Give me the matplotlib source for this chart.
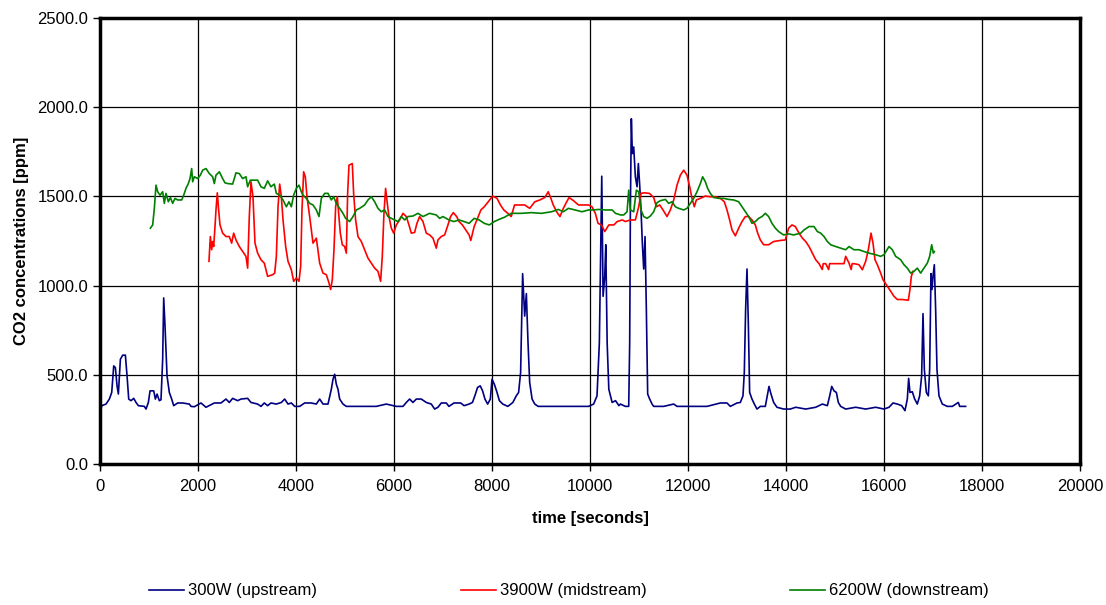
import numpy as np
import matplotlib
matplotlib.use("Agg")
import matplotlib.pyplot as plt
from matplotlib.ticker import FormatStrFormatter

plt.rcParams['font.family'] = ['Liberation Sans', 'DejaVu Sans']

# (time [s], CO2 [ppm])
upstream = [
    (8, 290), (35, 327), (123, 336), (191, 364), (239, 401), (280, 550), (314, 540), (348, 438),
    (375, 392), (416, 587), (463, 610), (518, 610), (552, 494), (586, 364), (633, 355), (688, 368),
    (735, 345), (783, 327), (905, 323), (939, 308), (987, 345), (1021, 410), (1096, 410), (1130, 364),
    (1164, 392), (1211, 355), (1245, 360), (1279, 587), (1300, 931), (1327, 773), (1368, 494),
    (1415, 401), (1463, 364), (1504, 327), (1585, 342), (1687, 342), (1823, 336), (1857, 323),
    (1925, 321), (2061, 342), (2163, 318), (2333, 342), (2469, 342), (2571, 364), (2639, 345),
    (2707, 368), (2809, 355), (2877, 364), (3013, 368), (3081, 345), (3217, 336), (3285, 323),
    (3353, 342), (3421, 327), (3489, 342), (3599, 336), (3701, 345), (3769, 364), (3837, 336),
    (3905, 342), (3973, 323), (4075, 323), (4177, 342), (4313, 342), (4415, 336), (4483, 364),
    (4551, 336), (4653, 336), (4721, 419), (4755, 475), (4789, 503), (4823, 447), (4857, 419),
    (4891, 364), (4959, 336), (5027, 323), (5231, 323), (5435, 323), (5639, 323), (5843, 336),
    (6047, 323), (6183, 323), (6251, 345), (6319, 364), (6387, 345), (6455, 364), (6557, 364),
    (6659, 345), (6761, 336), (6829, 308), (6897, 318), (6965, 342), (7067, 342), (7121, 323),
    (7224, 342), (7361, 342), (7430, 327), (7533, 336), (7601, 345), (7650, 382), (7705, 429),
    (7760, 438), (7808, 410), (7856, 364), (7911, 336), (7966, 364), (8000, 475), (8048, 447),
    (8103, 401), (8151, 355), (8220, 336), (8323, 323), (8426, 345), (8495, 382), (8543, 401),
    (8584, 513), (8625, 1067), (8667, 829), (8701, 955), (8735, 680), (8769, 457), (8818, 364),
    (8873, 336), (8941, 323), (9285, 323), (9628, 323), (9971, 323), (10074, 336), (10143, 382),
    (10191, 680), (10219, 1238), (10240, 1613), (10267, 940), (10301, 1052), (10322, 1229),
    (10350, 680), (10384, 419), (10452, 345), (10521, 355), (10590, 327), (10620, 336),
    (10722, 323), (10790, 323), (10810, 680), (10824, 1424), (10844, 1935), (10864, 1740),
    (10892, 1777), (10926, 1610), (10960, 1554), (10987, 1684), (11014, 1563), (11041, 1424),
    (11068, 1238), (11096, 1093), (11123, 1275), (11150, 866), (11177, 392), (11218, 364),
    (11266, 336), (11300, 323), (11504, 323), (11708, 336), (11776, 323), (12116, 323),
    (12388, 323), (12660, 342), (12796, 342), (12864, 323), (13000, 342), (13068, 345),
    (13122, 382), (13149, 513), (13176, 866), (13204, 1093), (13231, 792), (13258, 401),
    (13306, 364), (13354, 336), (13408, 308), (13476, 323), (13578, 323), (13612, 373),
    (13653, 435), (13694, 392), (13748, 345), (13816, 318), (13952, 308), (14088, 308),
    (14198, 318), (14402, 308), (14606, 318), (14742, 336), (14844, 327), (14892, 382),
    (14933, 435), (14980, 410), (15028, 401), (15068, 345), (15116, 323), (15218, 308),
    (15422, 318), (15626, 308), (15830, 318), (16000, 308), (16102, 318), (16184, 342),
    (16272, 336), (16360, 327), (16428, 299), (16476, 364), (16503, 480), (16530, 401),
    (16578, 405), (16626, 364), (16680, 336), (16728, 382), (16768, 494), (16796, 843),
    (16823, 531), (16864, 401), (16905, 382), (16932, 531), (16959, 1067), (16980, 978),
    (17000, 1052), (17027, 1117), (17054, 866), (17081, 531), (17122, 382), (17190, 336),
    (17292, 323), (17394, 323), (17517, 345), (17544, 323), (17666, 323),
]

midstream = [
    (2224, 1136), (2252, 1275), (2279, 1201), (2299, 1247), (2320, 1219), (2347, 1331),
    (2367, 1424), (2394, 1520), (2421, 1424), (2449, 1340), (2503, 1294), (2571, 1275),
    (2639, 1275), (2687, 1238), (2728, 1294), (2775, 1256), (2843, 1219), (2911, 1191),
    (2979, 1164), (3013, 1098), (3047, 1387), (3081, 1582), (3122, 1498), (3163, 1238),
    (3217, 1182), (3285, 1145), (3353, 1126), (3421, 1052), (3523, 1061), (3565, 1070),
    (3599, 1164), (3633, 1442), (3667, 1569), (3701, 1498), (3735, 1368), (3789, 1219),
    (3837, 1136), (3905, 1089), (3952, 1024), (4007, 1043), (4061, 1024), (4095, 1108),
    (4122, 1424), (4156, 1638), (4190, 1610), (4224, 1498), (4279, 1387), (4347, 1238),
    (4415, 1266), (4483, 1126), (4551, 1070), (4619, 1061), (4673, 1015), (4707, 978),
    (4741, 1033), (4775, 1201), (4809, 1442), (4843, 1498), (4877, 1387), (4904, 1294),
    (4945, 1229), (4993, 1219), (5027, 1182), (5054, 1517), (5081, 1675), (5149, 1684),
    (5176, 1517), (5217, 1368), (5265, 1275), (5333, 1247), (5401, 1201), (5469, 1154),
    (5537, 1126), (5605, 1098), (5673, 1080), (5727, 1024), (5761, 1164), (5795, 1405),
    (5829, 1545), (5863, 1461), (5897, 1387), (5945, 1322), (5993, 1294), (6047, 1340),
    (6115, 1368), (6183, 1405), (6251, 1387), (6305, 1340), (6353, 1294), (6421, 1298),
    (6468, 1349), (6523, 1387), (6591, 1359), (6659, 1294), (6727, 1284), (6795, 1266),
    (6863, 1210), (6897, 1256), (6965, 1275), (7033, 1284), (7101, 1340), (7155, 1387),
    (7210, 1409), (7279, 1387), (7327, 1359), (7396, 1340), (7464, 1312), (7533, 1284),
    (7567, 1253), (7636, 1331), (7705, 1377), (7773, 1424), (7842, 1442), (7924, 1470),
    (8014, 1502), (8103, 1489), (8172, 1452), (8241, 1424), (8323, 1405), (8392, 1387),
    (8460, 1452), (8564, 1452), (8667, 1452), (8770, 1433), (8873, 1470), (8976, 1480),
    (9079, 1494), (9147, 1526), (9202, 1489), (9250, 1452), (9319, 1414), (9387, 1387),
    (9456, 1433), (9525, 1470), (9573, 1494), (9662, 1476), (9765, 1452), (9868, 1452),
    (9971, 1452), (10040, 1442), (10109, 1405), (10164, 1349), (10232, 1340), (10301, 1303),
    (10384, 1340), (10487, 1340), (10555, 1359), (10658, 1368), (10722, 1359), (10824, 1368),
    (10926, 1368), (10994, 1442), (11041, 1517), (11110, 1520), (11212, 1517), (11300, 1494),
    (11354, 1442), (11422, 1452), (11490, 1424), (11572, 1387), (11640, 1424), (11708, 1480),
    (11776, 1563), (11844, 1619), (11912, 1647), (11980, 1619), (12034, 1554), (12082, 1489),
    (12129, 1442), (12170, 1480), (12252, 1489), (12354, 1502), (12456, 1498), (12558, 1498),
    (12660, 1489), (12741, 1470), (12796, 1424), (12850, 1368), (12898, 1312), (12966, 1279),
    (13034, 1322), (13102, 1359), (13170, 1387), (13238, 1387), (13306, 1368), (13374, 1340),
    (13422, 1294), (13476, 1256), (13544, 1229), (13646, 1229), (13748, 1247), (13884, 1253),
    (13986, 1256), (14054, 1322), (14122, 1340), (14190, 1331), (14266, 1294), (14334, 1266),
    (14402, 1247), (14470, 1219), (14538, 1182), (14606, 1145), (14674, 1123), (14740, 1090),
    (14760, 1123), (14810, 1123), (14870, 1090), (14890, 1123), (14946, 1123), (15082, 1123),
    (15184, 1123), (15218, 1164), (15286, 1126), (15330, 1090), (15350, 1123), (15388, 1123),
    (15490, 1117), (15558, 1089), (15626, 1136), (15680, 1201), (15735, 1294), (15776, 1238),
    (15816, 1145), (15864, 1117), (15932, 1070), (15980, 1033), (16048, 1005), (16136, 968),
    (16204, 940), (16272, 922), (16374, 922), (16496, 918), (16530, 978), (16558, 1052),
    (16592, 1080),
]

downstream = [
    (1028, 1322), (1075, 1340), (1109, 1433), (1143, 1563), (1177, 1526), (1225, 1507),
    (1279, 1526), (1313, 1461), (1347, 1517), (1395, 1470), (1436, 1494), (1483, 1461),
    (1531, 1489), (1585, 1480), (1667, 1480), (1708, 1507), (1755, 1545), (1803, 1572),
    (1837, 1600), (1871, 1656), (1891, 1582), (1925, 1610), (1993, 1600), (2048, 1619),
    (2095, 1647), (2163, 1656), (2231, 1628), (2299, 1610), (2333, 1572), (2367, 1619),
    (2435, 1638), (2503, 1600), (2551, 1576), (2605, 1572), (2707, 1569), (2775, 1632),
    (2843, 1628), (2911, 1600), (2979, 1610), (3013, 1554), (3067, 1591), (3217, 1591),
    (3285, 1554), (3353, 1545), (3421, 1587), (3489, 1554), (3557, 1569), (3599, 1517),
    (3667, 1507), (3735, 1480), (3803, 1442), (3857, 1470), (3905, 1442), (3952, 1507),
    (4007, 1545), (4061, 1563), (4109, 1526), (4143, 1507), (4211, 1489), (4279, 1461),
    (4347, 1452), (4415, 1424), (4469, 1387), (4517, 1489), (4585, 1517), (4653, 1517),
    (4721, 1480), (4768, 1498), (4823, 1461), (4891, 1433), (4959, 1405), (5013, 1377),
    (5095, 1359), (5163, 1387), (5231, 1424), (5299, 1433), (5401, 1452), (5469, 1480),
    (5537, 1498), (5605, 1470), (5673, 1433), (5741, 1414), (5809, 1424), (5877, 1387),
    (5945, 1377), (6013, 1368), (6081, 1359), (6149, 1387), (6217, 1368), (6285, 1387),
    (6387, 1390), (6489, 1405), (6591, 1387), (6727, 1405), (6863, 1396), (6931, 1377),
    (6999, 1387), (7121, 1368), (7224, 1359), (7327, 1368), (7430, 1359), (7533, 1349),
    (7636, 1377), (7739, 1368), (7842, 1349), (7945, 1340), (8048, 1359), (8151, 1372),
    (8254, 1383), (8392, 1405), (8598, 1405), (8804, 1409), (9010, 1405), (9216, 1414),
    (9353, 1427), (9456, 1414), (9559, 1433), (9697, 1424), (9834, 1414), (9971, 1424),
    (10074, 1424), (10177, 1427), (10315, 1424), (10452, 1424), (10521, 1405), (10624, 1396),
    (10688, 1396), (10756, 1414), (10790, 1535), (10824, 1424), (10892, 1414), (10946, 1535),
    (10994, 1526), (11041, 1424), (11096, 1387), (11164, 1377), (11232, 1390), (11300, 1414),
    (11368, 1465), (11436, 1476), (11538, 1483), (11606, 1461), (11674, 1470), (11742, 1442),
    (11810, 1433), (11912, 1424), (11980, 1433), (12048, 1461), (12116, 1489), (12184, 1526),
    (12252, 1572), (12299, 1610), (12354, 1582), (12401, 1545), (12456, 1517), (12524, 1494),
    (12626, 1489), (12728, 1489), (12830, 1483), (12932, 1480), (13034, 1470), (13102, 1442),
    (13170, 1414), (13238, 1387), (13306, 1349), (13374, 1359), (13442, 1377), (13510, 1387),
    (13578, 1405), (13646, 1387), (13714, 1349), (13782, 1322), (13850, 1303), (13952, 1284),
    (14054, 1290), (14156, 1284), (14300, 1294), (14368, 1312), (14470, 1331), (14572, 1331),
    (14640, 1303), (14708, 1294), (14776, 1275), (14844, 1247), (14912, 1229), (15014, 1219),
    (15116, 1210), (15218, 1201), (15286, 1219), (15388, 1201), (15490, 1201), (15592, 1191),
    (15694, 1182), (15830, 1173), (15932, 1164), (16000, 1173), (16102, 1219), (16170, 1201),
    (16238, 1164), (16340, 1145), (16408, 1117), (16476, 1098), (16544, 1070), (16612, 1080),
    (16680, 1098), (16748, 1070), (16816, 1098), (16884, 1126), (16932, 1164), (16973, 1229),
    (17007, 1182), (17027, 1191),
]

series = [
    (upstream, '#000080', '300W (upstream)'),
    (midstream, '#FF0000', '3900W (midstream)'),
    (downstream, '#008000', '6200W (downstream)'),
]

fig = plt.figure(figsize=(11.06, 6.05), dpi=100)
ax = fig.add_axes([100 / 1106, 1 - 464 / 605, 980 / 1106, 446 / 605])

for data, color, label in series:
    arr = np.array(data)
    ax.plot(arr[:, 0], arr[:, 1], color=color, lw=1.2, label=label)

ax.set_xlim(0, 20000)
ax.set_ylim(0, 2500)
ax.set_xticks(np.arange(0, 20001, 2000))
ax.set_yticks(np.arange(0, 2501, 500))
ax.yaxis.set_major_formatter(FormatStrFormatter('%.1f'))
ax.grid(True, color='black', lw=0.9)
ax.set_axisbelow(True)
for sp in ax.spines.values():
    sp.set_linewidth(2.5)
ax.tick_params(labelsize=12, length=5, width=1, direction='out')
ax.tick_params(axis='x', pad=6)

ax.set_xlabel('time [seconds]', fontsize=12, fontweight='bold', labelpad=12)
ax.set_ylabel('CO2 concentrations [ppm]', fontsize=12, fontweight='bold', labelpad=6)

fig.legend(loc='center left', bbox_to_anchor=(149 / 1106, 1 - 591 / 605), ncol=3,
           frameon=False, fontsize=12, handlelength=2.1, handletextpad=0.25,
           columnspacing=8.6, borderpad=0, borderaxespad=0)

fig.savefig('out.png', dpi=100)
